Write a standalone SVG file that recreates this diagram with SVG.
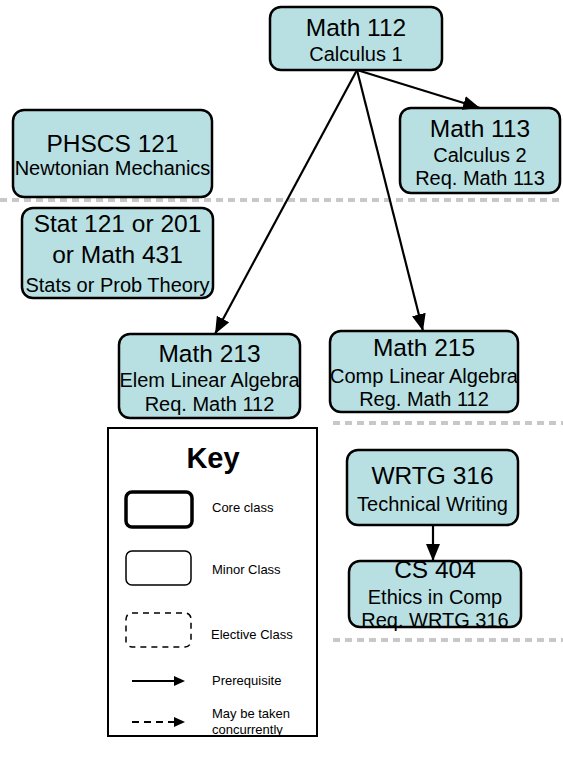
<svg xmlns="http://www.w3.org/2000/svg" width="563" height="758" viewBox="0 0 563 758">
<style>
.node rect{fill:#b8e0e3;stroke:#000;stroke-width:2.5}
text{font-family:"Liberation Sans",Arial,sans-serif;fill:#000;text-anchor:middle}
.t{font-size:24.5px}
.s{font-size:20px}
.k{font-size:13px;text-anchor:start}
.sep{stroke:#c8c8c8;stroke-width:4;stroke-dasharray:7 5}
.conn line{stroke:#000;stroke-width:2.2}
</style>
<defs>
<marker id="ah" markerUnits="userSpaceOnUse" markerWidth="17" markerHeight="14" refX="17" refY="7" orient="auto">
<path d="M0,0 L17,7 L0,14 Z" fill="#000"/>
</marker>
</defs>
<rect width="563" height="758" fill="#fff"/>
<g id="separators">
<line class="sep" x1="0" y1="200" x2="563" y2="200"/>
<line class="sep" x1="333" y1="423" x2="563" y2="423"/>
<line class="sep" x1="333" y1="640" x2="563" y2="640"/>
</g>
<g id="math112" class="node"><rect x="270" y="7" width="172" height="63" rx="11"/>
<text class="t" x="356" y="36">Math 112</text><text class="s" x="356" y="61">Calculus 1</text></g>
<g id="math113" class="node"><rect x="400" y="108" width="160" height="85" rx="11"/>
<text class="t" x="480" y="137">Math 113</text><text class="s" x="480" y="162">Calculus 2</text><text class="s" x="480" y="185">Req. Math 113</text></g>
<g id="phscs121" class="node"><rect x="13" y="110" width="199" height="87" rx="11"/>
<text class="t" x="112.5" y="152">PHSCS 121</text><text class="s" x="112.5" y="175">Newtonian Mechanics</text></g>
<g id="stat" class="node"><rect x="22" y="208" width="191" height="90" rx="11"/>
<text class="t" x="117.5" y="232">Stat 121 or 201</text><text class="t" x="117.5" y="263">or Math 431</text><text class="s" x="117.5" y="292">Stats or Prob Theory</text></g>
<g id="math213" class="node"><rect x="119" y="334" width="181" height="84" rx="11"/>
<text class="t" x="209.5" y="362">Math 213</text><text class="s" x="209.5" y="387">Elem Linear Algebra</text><text class="s" x="209.5" y="411">Req. Math 112</text></g>
<g id="math215" class="node"><rect x="330" y="331" width="188" height="81" rx="11"/>
<text class="t" x="424" y="356">Math 215</text><text class="s" x="424" y="383">Comp Linear Algebra</text><text class="s" x="424" y="406">Reg. Math 112</text></g>
<g id="wrtg316" class="node"><rect x="347" y="450" width="171" height="75" rx="11"/>
<text class="t" x="432.5" y="484">WRTG 316</text><text class="s" x="432.5" y="511">Technical Writing</text></g>
<g id="cs404" class="node"><rect x="349" y="561" width="172" height="66" rx="11"/>
<text class="t" x="435" y="578">CS 404</text><text class="s" x="435" y="604">Ethics in Comp</text><text class="s" x="435" y="627">Req. WRTG 316</text></g>
<g id="connectors" class="conn">
<line x1="357" y1="70" x2="480" y2="108" marker-end="url(#ah)"/>
<line x1="357" y1="70" x2="215" y2="334" marker-end="url(#ah)"/>
<line x1="357" y1="70" x2="423" y2="331" marker-end="url(#ah)"/>
<line x1="433" y1="525" x2="433" y2="561" marker-end="url(#ah)"/>
</g>
<g id="key">
<rect x="108" y="428" width="209" height="308" fill="#fff" stroke="#000" stroke-width="2"/>
<text x="213" y="468" style="font-size:29px;font-weight:bold">Key</text>
<rect x="126" y="492" width="66" height="35" rx="6" fill="none" stroke="#000" stroke-width="3.5"/>
<text class="k" x="212" y="512">Core class</text>
<rect x="126" y="551" width="65" height="34" rx="6" fill="none" stroke="#000" stroke-width="1.5"/>
<text class="k" x="212" y="574">Minor Class</text>
<rect x="126" y="613" width="65" height="34" rx="6" fill="none" stroke="#000" stroke-width="1.5" stroke-dasharray="6 5"/>
<text class="k" x="211" y="639">Elective Class</text>
<line x1="132" y1="681" x2="176" y2="681" stroke="#000" stroke-width="2"/>
<path d="M174,676 L185,681 L174,686 Z"/>
<text class="k" x="212" y="685">Prerequisite</text>
<line x1="132" y1="722" x2="176" y2="722" stroke="#000" stroke-width="2" stroke-dasharray="7 5"/>
<path d="M174,717 L185,722 L174,727 Z"/>
<text class="k" x="212" y="718">May be taken</text>
<text class="k" x="212" y="734">concurrently</text>
</g>
</svg>
